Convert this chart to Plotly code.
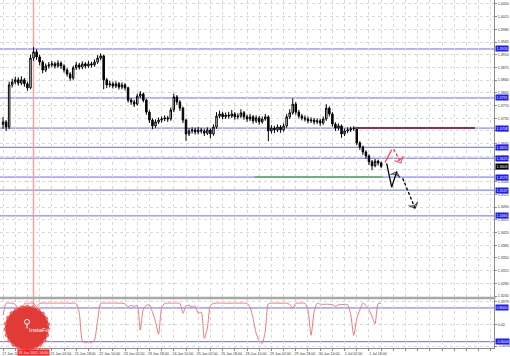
import plotly.graph_objects as go

# ---------------- data ----------------
closes = [1.3725, 1.3711, 1.3827, 1.3835, 1.3841, 1.3832, 1.3841, 1.3830, 1.3819, 1.3901,
          1.3918, 1.3904, 1.3890, 1.3868, 1.3879, 1.3882, 1.3885, 1.3879, 1.3887, 1.3879,
          1.3868, 1.3857, 1.3846, 1.3874, 1.3882, 1.3876, 1.3885, 1.3879, 1.3885, 1.3882,
          1.3890, 1.3901, 1.3907, 1.3841, 1.3827, 1.3830, 1.3824, 1.3830, 1.3821, 1.3827,
          1.3819, 1.3785, 1.3780, 1.3774, 1.3796, 1.3802, 1.3785, 1.3752, 1.3730, 1.3714,
          1.3725, 1.3730, 1.3733, 1.3736, 1.3733, 1.3758, 1.3794, 1.3780, 1.3763, 1.3730,
          1.3692, 1.3700, 1.3703, 1.3697, 1.3703, 1.3700, 1.3694, 1.3703, 1.3692, 1.3711,
          1.3741, 1.3747, 1.3739, 1.3744, 1.3741, 1.3747, 1.3739, 1.3741, 1.3750, 1.3739,
          1.3733, 1.3739, 1.3728, 1.3736, 1.3725, 1.3733, 1.3739, 1.3700, 1.3708, 1.3703,
          1.3711, 1.3703, 1.3714, 1.3739, 1.3750, 1.3774, 1.3752, 1.3741, 1.3736, 1.3733,
          1.3728, 1.3730, 1.3725, 1.3728, 1.3722, 1.3733, 1.3763, 1.3747, 1.3719, 1.3708,
          1.3714, 1.3692, 1.3700, 1.3703, 1.3706, 1.3708, 1.3667, 1.3656, 1.3642, 1.3631,
          1.3615, 1.3604, 1.3617, 1.3612, 1.3603]
highs = [1.3738, 1.3730, 1.3836, 1.3844, 1.3850, 1.3848, 1.3851, 1.3846, 1.3836, 1.3910,
         1.3931, 1.3925, 1.3910, 1.3895, 1.3886, 1.3890, 1.3893, 1.3891, 1.3895, 1.3892,
         1.3884, 1.3873, 1.3862, 1.3880, 1.3890, 1.3888, 1.3892, 1.3890, 1.3893, 1.3891,
         1.3897, 1.3909, 1.3914, 1.3910, 1.3846, 1.3838, 1.3836, 1.3837, 1.3835, 1.3834,
         1.3832, 1.3822, 1.3791, 1.3786, 1.3803, 1.3810, 1.3806, 1.3789, 1.3757, 1.3735,
         1.3732, 1.3737, 1.3740, 1.3743, 1.3742, 1.3765, 1.3803, 1.3799, 1.3785, 1.3767,
         1.3734, 1.3708, 1.3710, 1.3709, 1.3711, 1.3709, 1.3706, 1.3710, 1.3707, 1.3718,
         1.3752, 1.3756, 1.3753, 1.3751, 1.3753, 1.3758, 1.3752, 1.3749, 1.3760, 1.3755,
         1.3745, 1.3747, 1.3744, 1.3743, 1.3741, 1.3740, 1.3747, 1.3743, 1.3716, 1.3714,
         1.3718, 1.3716, 1.3721, 1.3746, 1.3760, 1.3790, 1.3780, 1.3758, 1.3747, 1.3743,
         1.3740, 1.3738, 1.3736, 1.3735, 1.3734, 1.3740, 1.3774, 1.3768, 1.3752, 1.3724,
         1.3721, 1.3718, 1.3707, 1.3710, 1.3712, 1.3713, 1.3711, 1.3672, 1.3660, 1.3647,
         1.3636, 1.3620, 1.3623, 1.3621, 1.3616]
lows = [1.3706, 1.3700, 1.3705, 1.3820, 1.3829, 1.3825, 1.3826, 1.3822, 1.3811, 1.3815,
        1.3893, 1.3896, 1.3881, 1.3859, 1.3862, 1.3872, 1.3876, 1.3872, 1.3874, 1.3871,
        1.3861, 1.3850, 1.3838, 1.3841, 1.3868, 1.3869, 1.3870, 1.3872, 1.3874, 1.3875,
        1.3877, 1.3885, 1.3895, 1.3815, 1.3818, 1.3820, 1.3817, 1.3818, 1.3814, 1.3815,
        1.3812, 1.3778, 1.3772, 1.3766, 1.3770, 1.3790, 1.3779, 1.3745, 1.3722, 1.3705,
        1.3709, 1.3719, 1.3723, 1.3727, 1.3725, 1.3728, 1.3752, 1.3772, 1.3755, 1.3722,
        1.3673, 1.3686, 1.3693, 1.3690, 1.3691, 1.3693, 1.3686, 1.3689, 1.3680, 1.3687,
        1.3706, 1.3735, 1.3732, 1.3733, 1.3734, 1.3736, 1.3731, 1.3732, 1.3736, 1.3731,
        1.3725, 1.3727, 1.3720, 1.3722, 1.3717, 1.3720, 1.3728, 1.3672, 1.3693, 1.3694,
        1.3697, 1.3695, 1.3698, 1.3709, 1.3733, 1.3745, 1.3745, 1.3734, 1.3729, 1.3726,
        1.3721, 1.3722, 1.3718, 1.3719, 1.3714, 1.3717, 1.3728, 1.3740, 1.3712, 1.3700,
        1.3702, 1.3681, 1.3686, 1.3694, 1.3697, 1.3700, 1.3661, 1.3648, 1.3634, 1.3623,
        1.3606, 1.3592, 1.3600, 1.3605, 1.3598]
first_open = 1.3718
opens = [first_open] + closes[:-1]          # each bar opens at the previous close
bar_hours = list(range(0, 2 * len(closes), 2))  # bar position in trading hours

indicator = [0.45, 1.02, 1.03, 1.03, 0.97, 0.78, 0.10, 1.00, 1.03, 1.03,
             1.03, 0.85, 1.02, 1.03, 1.03, 1.03, 1.03, 1.03, 1.03, 1.03,
             1.03, 1.03, 1.02, 1.03, 1.00, 0.55, -0.75, -0.86, -0.80, -0.86,
             -0.72, 0.20, 1.02, 1.03, 1.03, 1.03, 1.03, 1.03, 1.03, 1.02,
             1.00, 0.86, 0.92, 0.88, 0.92, -0.25, 0.75, 0.92, 0.95, 0.60,
             0.15, -0.45, 0.80, 1.02, 1.03, 1.03, 1.03, 1.03, 1.02, 0.55,
             0.90, 0.92, 0.85, 0.90, 0.55, 0.60, -0.65, -0.15, 0.92, 1.02,
             1.03, 1.03, 1.03, 1.03, 1.02, 1.03, 1.03, 1.03, 1.03, 1.03,
             1.02, 0.85, 0.30, -0.40, -0.75, -0.88, -0.30, 1.00, 1.03, 1.03,
             1.03, 1.02, 1.03, 1.03, 0.97, 0.78, 1.02, 1.03, 1.03, 1.02,
             0.70, -0.50, 0.60, 1.02, 0.98, 0.97, 0.98, 0.97, 0.96, 0.88,
             0.95, 0.96, 0.97, 0.95, 0.50, -0.50, 0.30, 0.70, 1.02, 0.92,
             0.72, 0.40, 0.05, 1.00, 1.02]

price_tick_labels = ["1.4050", "1.4015", "1.3980", "1.3945", "1.3910", "1.3875", "1.3840", "1.3805",
                     "1.3770", "1.3735", "1.3700", "1.3665", "1.3630", "1.3595", "1.3560", "1.3525",
                     "1.3490", "1.3455", "1.3420", "1.3385", "1.3350", "1.3315", "1.3280", "1.3245"]
# label hidden under the crosshair box at 16 h is left blank
time_tick_labels = ["17 Jun 2021", "", "21 Jun 02:00", "21 Jun 18:00", "22 Jun 10:00",
                    "23 Jun 02:00", "23 Jun 18:00", "24 Jun 10:00", "25 Jun 02:00", "25 Jun 18:00",
                    "28 Jun 10:00", "29 Jun 02:00", "29 Jun 18:00", "30 Jun 10:00", "1 Jul 02:00",
                    "1 Jul 18:00"]
crosshair_hour = 20
crosshair_label = "18 Jun 2021 14:00"

levels = [1.3926, 1.3791, 1.3708, 1.3655, 1.3625, 1.3573, 1.3537, 1.3466]
current_price = 1.3603
ind_tick_vals = [1.0979, 0.0, -1.0056]
ind_tick_labels = ["1.0979", "0.00", "-1.0056"]
ind_levels = [0.8, -0.8]

resistance_hours = [231, 309.5]
resistance_price = 1.3708
support_hours = [165, 249]
support_price = 1.3573

red_solid_h = [250.5, 254.9]
red_solid_p = [1.3613, 1.3648]
red_dash_h = [256.2, 261.0]
red_dash_p = [1.3650, 1.3612]
black_solid_h = [251.6, 254.9, 258.2]
black_solid_p = [1.3611, 1.3545, 1.3588]
black_dash_h = [262.1, 270.2]
black_dash_p = [1.3570, 1.3487]

# ---------------- figure ----------------
GRID = "#d9d9d9"
AXIS = "#8a8a8a"
BLUE = "#6a6aff"
FAM = "Liberation Sans, Arial, sans-serif"
TFONT = dict(family=FAM, size=3.6, color="#333333")

fig = go.Figure()

fig.add_trace(go.Candlestick(
    x=bar_hours, open=opens, high=highs, low=lows, close=closes,
    increasing=dict(line=dict(color="#000000", width=1), fillcolor="#ffffff"),
    decreasing=dict(line=dict(color="#000000", width=1), fillcolor="#000000"),
    whiskerwidth=0, xaxis="x", yaxis="y", hoverinfo="skip"))

fig.add_trace(go.Scatter(x=bar_hours, y=indicator, mode="lines",
                         line=dict(color="#f07a7a", width=1, shape="spline", smoothing=0.6),
                         xaxis="x", yaxis="y2", hoverinfo="skip"))

shapes = []
for lv in levels:
    shapes.append(dict(type="line", xref="paper", x0=0, x1=1, yref="y", y0=lv, y1=lv,
                       line=dict(color=BLUE, width=1), layer="below"))
for lv in ind_levels:
    shapes.append(dict(type="line", xref="paper", x0=0, x1=1, yref="y2", y0=lv, y1=lv,
                       line=dict(color=BLUE, width=1), layer="below"))
shapes.append(dict(type="line", xref="x", x0=crosshair_hour, x1=crosshair_hour, yref="paper",
                   y0=0, y1=1, line=dict(color="#ff9c9c", width=1.5), layer="below"))
shapes.append(dict(type="line", xref="paper", x0=0, x1=1.003, yref="paper", y0=0.1437, y1=0.1437,
                   line=dict(color="#a8a8a8", width=2.5)))
# watermark logo
shapes.append(dict(type="circle", xref="paper", yref="paper", x0=0.0101, x1=0.0992,
                   y0=-0.006, y1=0.1207, fillcolor="#e23a36", line=dict(color="#ee6a66", width=2.5,
                                                                         dash="dot"),
                   layer="above"))
shapes.append(dict(type="circle", xref="paper", yref="paper", x0=0.0497, x1=0.0597,
                   y0=0.068, y1=0.082, line=dict(color="#ffffff", width=1), layer="above"))
shapes.append(dict(type="line", xref="paper", yref="paper", x0=0.0547, x1=0.0547,
                   y0=0.056, y1=0.070, line=dict(color="#ffffff", width=1), layer="above"))


def path_trace(hs, ps, color, width, dash=None, head=False):
    sizes = [0] * (len(hs) - 1) + [7 if head else 0]
    return go.Scatter(
        x=hs, y=ps, mode="lines+markers" if head else "lines",
        line=dict(color=color, width=width, dash=dash),
        marker=dict(symbol="arrow-wide-open", size=sizes, angleref="previous",
                    color=color, line=dict(color=color, width=1.1)),
        hoverinfo="skip")


fig.add_trace(go.Scatter(x=resistance_hours, y=[resistance_price] * 2, mode="lines",
                         line=dict(color="#8f2d5f", width=2), hoverinfo="skip"))
fig.add_trace(go.Scatter(x=support_hours, y=[support_price] * 2, mode="lines",
                         line=dict(color="#55b055", width=1.5), hoverinfo="skip"))
fig.add_trace(path_trace(red_solid_h, red_solid_p, "#ff2a2a", 1.1))
fig.add_trace(path_trace(red_dash_h, red_dash_p, "#ff2a2a", 1.1, "3px,2px", head=True))
fig.add_trace(path_trace(black_solid_h, black_solid_p, "#000000", 1.3, head=True))
fig.add_trace(path_trace(black_dash_h, black_dash_p, "#000000", 1.3, "3px,2px", head=True))

annotations = []
LBL = dict(family=FAM, size=3.6, color="#ffffff")
for lv in levels:
    annotations.append(dict(x=1, xref="paper", xanchor="left", xshift=1, y=lv, yref="y",
                            text=f"{lv:.4f}", showarrow=False, bgcolor="#1a1aff",
                            font=LBL, borderpad=0.5))
annotations.append(dict(x=1, xref="paper", xanchor="left", xshift=1, y=current_price, yref="y",
                        text=f"{current_price:.4f}", showarrow=False, bgcolor="#000000",
                        font=LBL, borderpad=0.5))
for lv in ind_levels:
    annotations.append(dict(x=1, xref="paper", xanchor="left", xshift=1, y=lv, yref="y2",
                            text=f"{lv:.4f}", showarrow=False, bgcolor="#1a1aff",
                            font=LBL, borderpad=0.5))
annotations.append(dict(x=crosshair_hour, xref="x", y=-0.012, yref="paper", yanchor="middle",
                        text=crosshair_label, showarrow=False, bgcolor="#ff2020",
                        font=LBL, borderpad=0.5))
annotations.append(dict(x=0.0547, xref="paper", y=0.038, yref="paper", text="InstaForex",
                        showarrow=False, font=dict(family=FAM, size=6, color="#ffffff")))

x_tickvals = list(range(0, 321, 8))
x_ticktext = []
for v in x_tickvals:
    k = v // 16
    x_ticktext.append(time_tick_labels[k] if v % 16 == 0 and k < len(time_tick_labels) else "")

fig.update_layout(
    width=510, height=356,
    margin=dict(l=0, r=16, t=0, b=8),
    paper_bgcolor="#ffffff", plot_bgcolor="#ffffff",
    showlegend=False,
    shapes=shapes, annotations=annotations,
    xaxis=dict(range=[-2, 322], tickvals=x_tickvals, ticktext=x_ticktext,
               showgrid=True, gridcolor=GRID, griddash="dot", gridwidth=1,
               anchor="y2", showline=True, linecolor=AXIS, linewidth=1,
               ticks="outside", ticklen=2, tickcolor=AXIS, tickfont=TFONT,
               ticklabelshift=9, zeroline=False, rangeslider=dict(visible=False)),
    yaxis=dict(domain=[0.1466, 1], range=[1.32425, 1.40610], side="right", anchor="x",
               tickvals=[float(s) for s in price_tick_labels], ticktext=price_tick_labels,
               showgrid=True, gridcolor=GRID, griddash="dot", gridwidth=1,
               showline=True, linecolor=AXIS, linewidth=1, ticks="outside", ticklen=2,
               tickcolor=AXIS, tickfont=TFONT, zeroline=False),
    yaxis2=dict(domain=[0, 0.1408], range=[-1.10, 1.225], side="right", anchor="x",
                tickvals=ind_tick_vals, ticktext=ind_tick_labels,
                showgrid=True, gridcolor=GRID, griddash="dot", gridwidth=1,
                showline=True, linecolor=AXIS, linewidth=1, ticks="outside", ticklen=2,
                tickcolor=AXIS, tickfont=TFONT, zeroline=False),
)

fig.write_html("out.html")
